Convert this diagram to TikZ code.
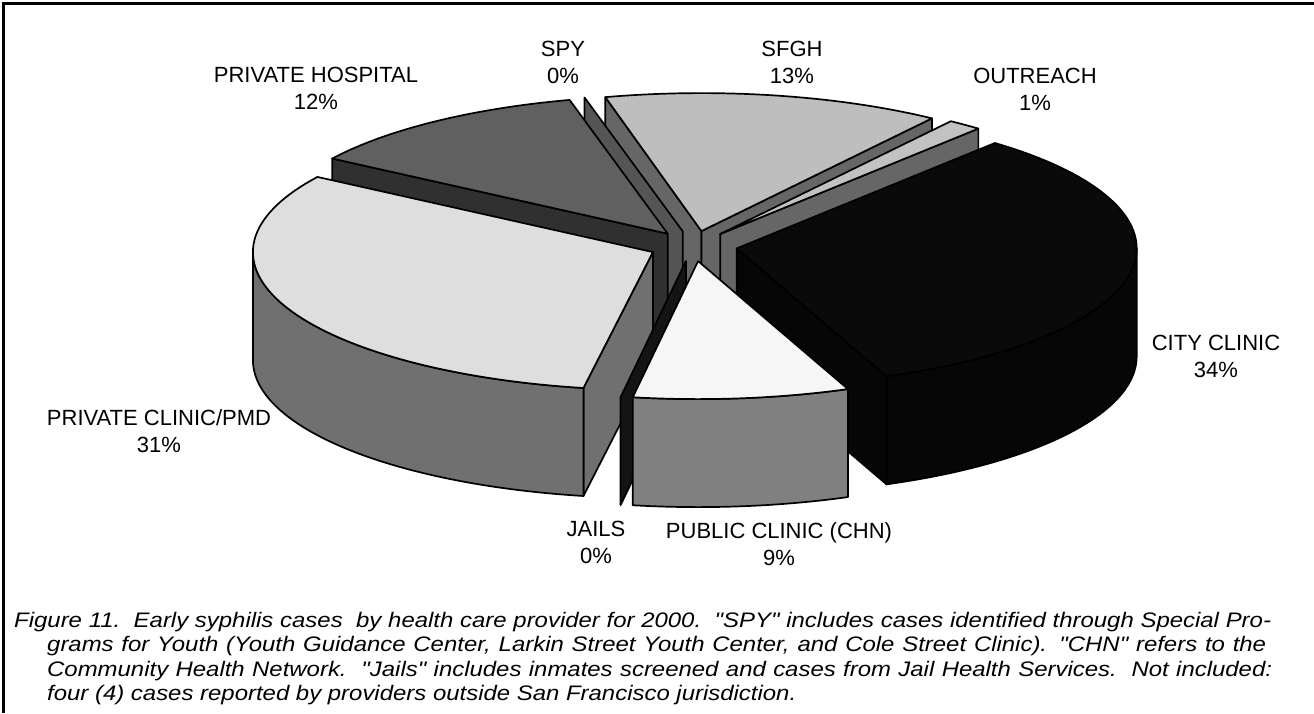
\documentclass[tikz,border=0pt]{standalone}
\usepackage{fontspec}
\setmainfont{Liberation Sans}
\newfontfamily\capfont[FakeStretch=1.14]{Liberation Sans}
\definecolor{phTop}{HTML}{606060}
\definecolor{phFace}{HTML}{303030}
\definecolor{spyFace}{HTML}{555555}
\definecolor{sfTop}{HTML}{BEBEBE}
\definecolor{sfFace}{HTML}{666666}
\definecolor{outTop}{HTML}{C2C2C2}
\definecolor{cityTop}{HTML}{0A0A0A}
\definecolor{citySide}{HTML}{060606}
\definecolor{pcTop}{HTML}{DEDEDE}
\definecolor{pcSide}{HTML}{707070}
\definecolor{jailFace}{HTML}{141414}
\definecolor{pucTop}{HTML}{F6F6F6}
\definecolor{pucSide}{HTML}{808080}
\def\pieA{400}
\def\pieB{138}
\def\pieH{108}
% top face: apex x, apex y, t1, t2, colour
\newcommand\pieTop[5]{%
  \filldraw[pie, fill=#5] (#1,#2) -- plot[domain=#3:#4, samples=70]
    ({#1+\pieA*cos(\x)}, {#2-\pieB*sin(\x)}) -- cycle;}
% radial cut face: apex x, apex y, angle, colour
\newcommand\pieCut[4]{%
  \filldraw[pie, fill=#4] (#1,#2) -- ({#1+\pieA*cos(#3)}, {#2-\pieB*sin(#3)})
    -- ({#1+\pieA*cos(#3)}, {#2-\pieB*sin(#3)+\pieH}) -- (#1,{#2+\pieH}) -- cycle;}
% outer curved side: apex x, apex y, t1, t2, colour
\newcommand\pieSide[5]{%
  \filldraw[pie, fill=#5] plot[domain=#3:#4, samples=50]
    ({#1+\pieA*cos(\x)}, {#2-\pieB*sin(\x)})
    -- plot[domain=#4:#3, samples=50]
    ({#1+\pieA*cos(\x)}, {#2-\pieB*sin(\x)+\pieH}) -- cycle;}
\begin{document}
\begin{tikzpicture}[x=1pt, y=-1pt,
  pie/.style={draw=black, line width=1.7pt, line join=round},
  lbl/.style={font=\fontsize{22}{27}\selectfont, align=center, inner sep=0pt, text=black},
  captext/.style={font=\capfont\fontsize{21}{24}\selectfont\itshape, anchor=base west, inner sep=0pt}]
\useasboundingbox (0,0) rectangle (1314,713);
\fill[white] (0,0) rectangle (1314,713);
\draw[line width=3pt] (3,713) -- (3,3) -- (1314,3);

% SFGH
\pieCut{701.4}{231.1}{103.9}{sfFace}
\pieCut{701.4}{231.1}{54.8}{sfFace}
\pieTop{701.4}{231.1}{54.8}{103.9}{sfTop}
% OUTREACH
\pieCut{720.2}{234.0}{49.8}{sfFace}
\pieTop{720.2}{234.0}{49.8}{54.8}{outTop}
% SPY
\pieCut{682.7}{231.3}{104.2}{spyFace}
% PRIVATE HOSPITAL
\pieCut{667.7}{233.7}{147}{phFace}
\pieTop{667.7}{233.7}{104.2}{147}{phTop}
% CITY CLINIC
\pieCut{736.7}{248.4}{292}{citySide}
\pieSide{736.7}{248.4}{292}{360}{citySide}
\pieTop{736.7}{248.4}{292}{409.8}{cityTop}
% PRIVATE CLINIC/PMD
\pieCut{652.9}{252.1}{260}{pcSide}
\pieSide{652.9}{252.1}{180}{260}{pcSide}
\pieTop{652.9}{252.1}{147}{260}{pcTop}
% JAILS
\pieCut{685.9}{261.0}{260.6}{jailFace}
% PUBLIC CLINIC
\pieSide{698.1}{261.1}{260.6}{292}{pucSide}
\pieTop{698.1}{261.1}{260.6}{292}{pucTop}

% labels
\node[lbl] (lph) at (316,88) {PRIVATE HOSPITAL\\12\%};
\node[lbl] (lspy) at (563,62.5) {SPY\\0\%};
\node[lbl] (lsfgh) at (792,62.5) {SFGH\\13\%};
\node[lbl] (lout) at (1035,89) {OUTREACH\\1\%};
\node[lbl] (lcity) at (1216,356) {CITY CLINIC\\34\%};
\node[lbl] (lpc) at (159,431.5) {PRIVATE CLINIC/PMD\\31\%};
\node[lbl] (ljail) at (596,542.5) {JAILS\\0\%};
\node[lbl] (lpuc) at (779,544) {PUBLIC CLINIC (CHN)\\9\%};

% caption
\node[captext] (c1) at (14,627) {\makebox[1257pt][s]{Figure 11.\ \ Early syphilis cases\ \ by health care provider for 2000.\ \ "SPY" includes cases identified through Special Pro-}};
\node[captext] (c2) at (47,651.5) {\makebox[1219pt][s]{grams for Youth (Youth Guidance Center, Larkin Street Youth Center, and Cole Street Clinic). "CHN" refers to the}};
\node[captext] (c3) at (47,676) {\makebox[1225pt][s]{Community Health Network.\ \ "Jails" includes inmates screened and cases from Jail Health Services.\ \ Not included:}};
\node[captext] (c4) at (47,700) {four (4) cases reported by providers outside San Francisco jurisdiction.};
\end{tikzpicture}
\end{document}
